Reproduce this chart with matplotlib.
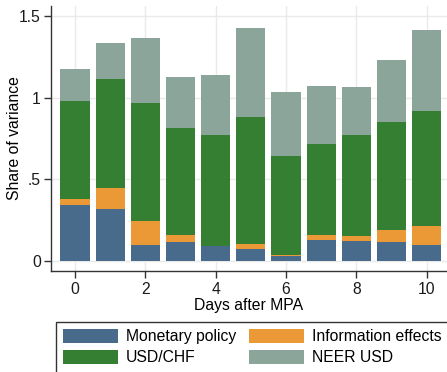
import matplotlib
matplotlib.use("Agg")
import matplotlib.pyplot as plt
from matplotlib.patches import Patch
import numpy as np

plt.rcParams['font.family'] = ['Liberation Sans', 'DejaVu Sans']

days = [0, 1, 2, 3, 4, 5, 6, 7, 8, 9, 10]
monetary_policy = [0.342, 0.317, 0.096, 0.115, 0.090, 0.072, 0.029, 0.127, 0.121, 0.115, 0.096]
information_effects = [0.036, 0.129, 0.147, 0.042, 0.000, 0.030, 0.006, 0.030, 0.030, 0.073, 0.117]
usd_chf = [0.602, 0.669, 0.724, 0.657, 0.681, 0.779, 0.607, 0.559, 0.620, 0.663, 0.705]
neer_usd = [0.196, 0.220, 0.399, 0.313, 0.368, 0.546, 0.393, 0.356, 0.294, 0.380, 0.497]

series = [
    ("Monetary policy", monetary_policy, "#486b8c"),
    ("Information effects", information_effects, "#ea9936"),
    ("USD/CHF", usd_chf, "#357f33"),
    ("NEER USD", neer_usd, "#8ca59a"),
]

FS = 11.3
W, H = 447, 372
fig = plt.figure(figsize=(W / 100, H / 100), dpi=100)
ax = fig.add_axes([50.7 / W, 1 - 270.7 / H, 1 - 50.7 / W, (270.7 - 6) / H])

x = np.array(days, dtype=float)
bottom = np.zeros(len(days))
for name, vals, col in series:
    v = np.array(vals)
    ax.bar(x, v, width=0.83, bottom=bottom, color=col, edgecolor='none', zorder=3)
    bottom += v

ax.set_xlim(-0.69, 10.58)
ax.set_ylim(-0.061, 1.563)
ax.set_xticks([0, 2, 4, 6, 8, 10])
ax.set_xticklabels(["0", "2", "4", "6", "8", "10"])
ax.set_yticks([0, 0.5, 1, 1.5])
ax.set_yticklabels(["0", ".5", "1", "1.5"])
ax.grid(True, color="#eaeaea", linewidth=1.0, zorder=0)
ax.set_axisbelow(True)
for s in ['top', 'right']:
    ax.spines[s].set_visible(False)
for s in ['left', 'bottom']:
    ax.spines[s].set_color('#333333')
    ax.spines[s].set_linewidth(1.0)
ax.tick_params(axis='both', direction='out', length=5, width=1.0, color='#333333',
               labelsize=FS, labelcolor='#1a1a1a')
ax.tick_params(axis='x', pad=3)
ax.tick_params(axis='y', pad=2)
ax.set_xlabel("Days after MPA", fontsize=FS, labelpad=1)
ax.set_ylabel("Share of variance", fontsize=FS)
ax.yaxis.set_label_coords((22 - 50.7) / (W - 50.7), 0.5)

handles = [Patch(facecolor=c, edgecolor='none', label=n) for n, _, c in series]
order = [0, 2, 1, 3]
handles = [handles[i] for i in order]
leg = fig.legend(handles=handles, loc='upper left',
                 bbox_to_anchor=(55.7 / W, 1 - 321.7 / H), ncol=2,
                 fontsize=FS, frameon=True, fancybox=False, borderpad=0.47,
                 handlelength=3.5, handleheight=1.0, handletextpad=0.5,
                 columnspacing=0.83, labelspacing=0.35, borderaxespad=0)
leg.get_frame().set_edgecolor('black')
leg.get_frame().set_linewidth(1.0)

fig.savefig("out.png", dpi=100)
